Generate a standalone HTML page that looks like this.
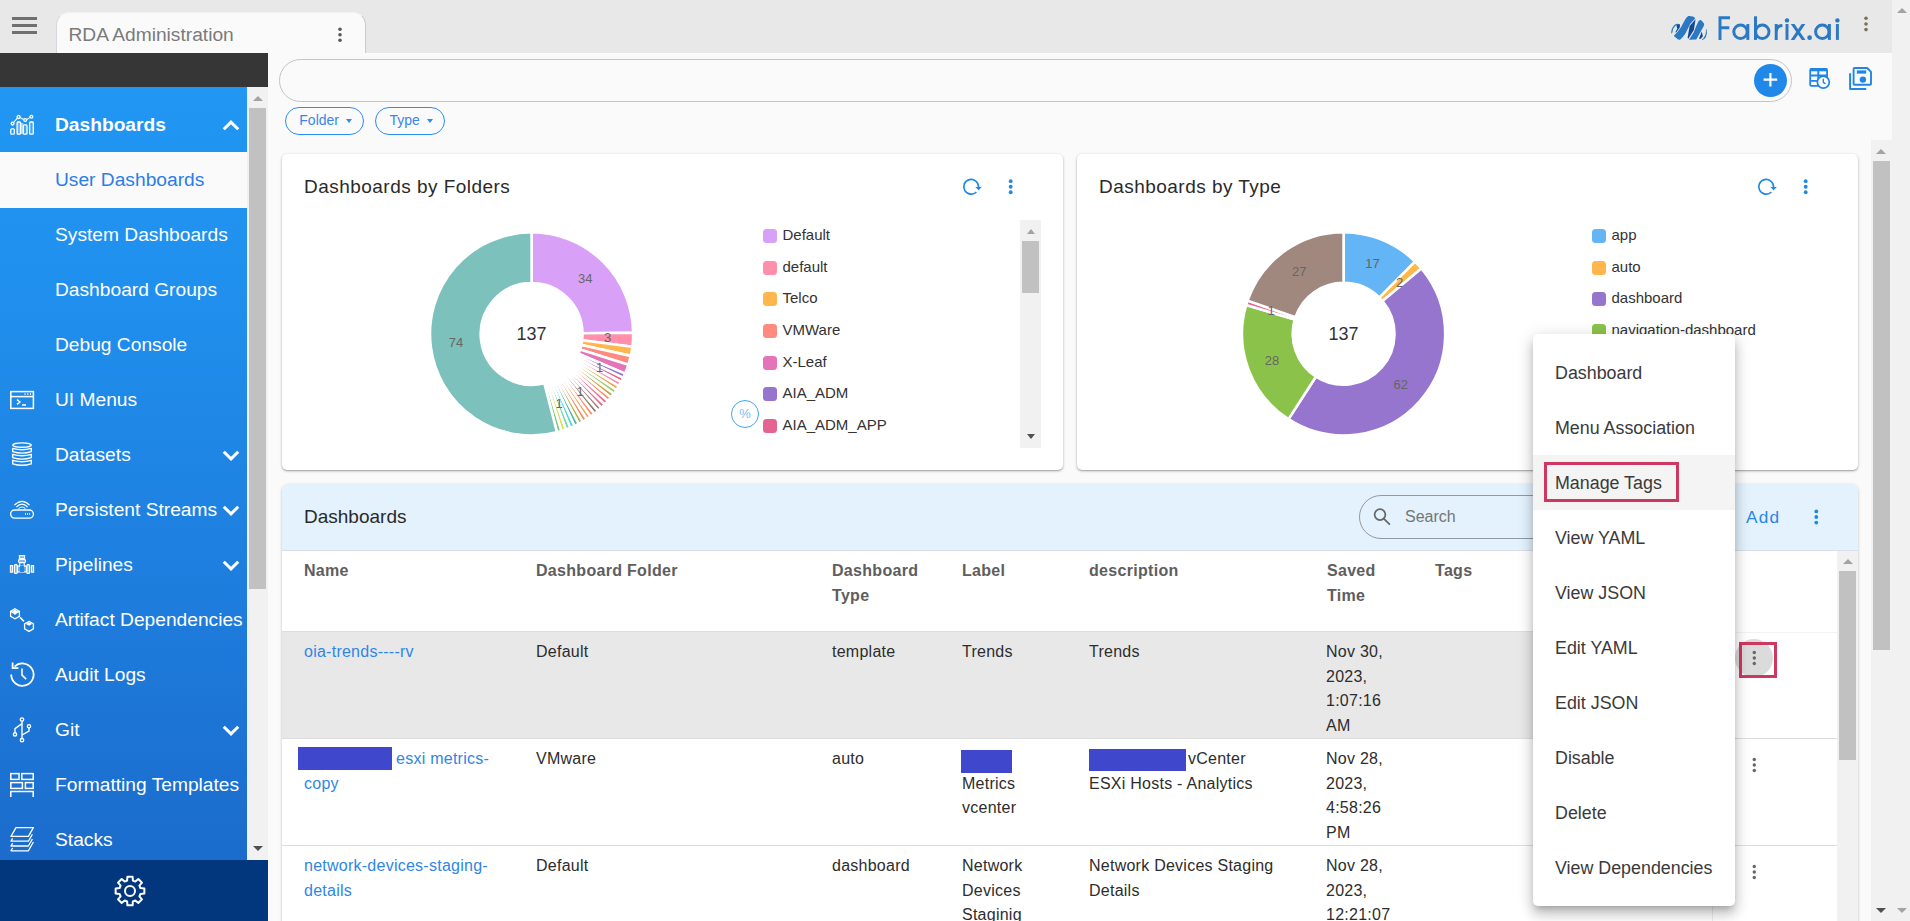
<!DOCTYPE html>
<html>
<head>
<meta charset="utf-8">
<title>RDA Administration</title>
<style>
*{box-sizing:border-box;margin:0;padding:0}
html,body{width:1910px;height:921px;overflow:hidden}
body{position:relative;background:#fafafa;font-family:"Liberation Sans",sans-serif;color:#333;}
.abs{position:absolute}
/* top bar */
#topbar{left:0;top:0;width:1892px;height:53px;background:#e8e8e8}
#outerscroll{left:1892px;top:0;width:18px;height:921px;background:#f1f1f1}
#tab{left:56px;top:12px;width:310px;height:41px;background:#fafafa;border-radius:13px 13px 0 0;border-left:1px solid #d4d8dc;border-right:1px solid #c4cbd1;border-top:1px solid #f2f2f2}
#tabtxt{left:68.5px;top:23px;font-size:19.2px;line-height:24px;color:#7a7a7a;white-space:nowrap}
.hb{left:12px;width:25px;height:3px;background:#707070}
/* sidebar */
#darkbar{left:0;top:53px;width:268px;height:34px;background:#363636}
#side{left:0;top:87px;width:247px;height:773px;background:linear-gradient(180deg,#2196f3 0%,#2090ee 25%,#1e80e0 60%,#1b6ccc 100%);overflow:hidden}
#sidescroll{left:247px;top:87px;width:21px;height:773px;background:#f1f1f1}
#sidethumb{left:249px;top:108px;width:17px;height:481px;background:#c1c1c1}
#sidefoot{left:0;top:860px;width:268px;height:61px;background:#02377e}
.si{position:absolute;left:0;width:247px;height:55px;color:#fff;font-size:19.2px;line-height:55px;white-space:nowrap}
.si span{position:absolute;left:55px;top:0}
.si.b span{font-weight:700}
.si svg.ic{position:absolute}
.si svg.ch{position:absolute;left:221.6px;top:20px}
#udash{background:#fafafa;color:#2b7de9}
.tri-up{width:0;height:0;border-left:5px solid transparent;border-right:5px solid transparent;border-bottom:5px solid #a3a3a3}
.tri-dn{width:0;height:0;border-left:5px solid transparent;border-right:5px solid transparent;border-top:5px solid #505050}
</style>
</head>
<body>
<!-- TOP BAR -->
<div id="topbar" class="abs"></div>
<div id="outerscroll" class="abs"></div>
<div class="abs tri-up" style="left:1897px;top:8px"></div>
<div class="abs tri-dn" style="left:1897px;top:908px;border-top-color:#a3a3a3"></div>
<div class="abs hb" style="top:17px"></div>
<div class="abs hb" style="top:24px"></div>
<div class="abs hb" style="top:31px"></div>
<div id="tab" class="abs"></div>
<div id="tabtxt" class="abs">RDA Administration</div>
<svg class="abs" style="left:335px;top:25px" width="10" height="20" viewBox="0 0 10 20"><g fill="#585858"><circle cx="5" cy="4.2" r="1.8"/><circle cx="5" cy="9.75" r="1.8"/><circle cx="5" cy="15.3" r="1.8"/></g></svg>
<!-- logo -->
<svg class="abs" style="left:1666px;top:12px" width="48" height="32" viewBox="0 0 1382 921">
 <path d="M150 625 Q140 470 250 365 Q330 320 400 355 L395 375 Q320 360 265 400 Q185 480 185 590 Z" fill="#2b79c5"/>
 <path d="M300 385 Q360 350 402 362 L396 445 L292 592 L268 580 L325 480 Z" fill="#0f4a94"/>
 <path d="M1165 490 Q1200 600 1150 720 Q1110 790 1045 805 L1035 790 Q1100 740 1130 660 Q1160 580 1150 500 Z" fill="#2b79c5"/>
 <path d="M1030 560 L1062 700 L1005 772 L950 772 L1000 640 Z" fill="#0f4a94"/>
 <path d="M852 212 L832 330 L802 520 L642 772 L622 742 L680 400 Z" fill="#0f4a94"/>
 <path d="M640 115 Q720 105 790 140 Q830 160 840 186 L700 340 L560 620 Q480 740 420 782 Q380 812 340 785 L232 695 Q225 680 240 668 Q340 580 430 440 L540 240 Q590 140 640 115 Z" fill="#2b79c5"/>
 <path d="M940 262 Q975 220 1010 235 Q1070 280 1098 340 Q1105 380 1080 420 L1000 560 L870 792 L662 796 L800 580 L870 400 Z" fill="#2b79c5"/>
</svg>
<svg class="abs" style="left:1664px;top:8px" width="180" height="40" viewBox="0 0 180 40">
 <g fill="none" stroke="#2b79c5" stroke-width="2.95">
  <path d="M56 31.9V8.3M54.6 9.75H66M54.6 19.8H65.3"/>
  <circle cx="76.5" cy="23.8" r="6.7"/><path d="M83.85 16V31.9"/>
  <path d="M91.5 8.3V31.9"/><circle cx="98.3" cy="23.8" r="6.7"/>
  <path d="M112.2 16V31.9M112.2 24 Q112.2 17.5 118.4 17.5"/>
  <path d="M123 16V31.9"/>
  <circle cx="158.3" cy="23.8" r="6.7"/><path d="M165.4 16V31.9"/>
  <path d="M173.4 16V31.9"/>
 </g>
 <g fill="#2b79c5"><path d="M126.8 16H130.5L141.5 31.9H137.8Z"/><path d="M141.4 16H137.7L126.7 31.9H130.4Z"/><circle cx="123" cy="12.4" r="2.2"/><circle cx="173.4" cy="12.4" r="2.2"/><circle cx="145.6" cy="29.7" r="2.35"/></g>
</svg>
<svg class="abs" style="left:1861px;top:12px" width="10" height="24" viewBox="0 0 10 24"><g fill="#7a6f5f"><circle cx="5" cy="6.2" r="1.8"/><circle cx="5" cy="12" r="1.8"/><circle cx="5" cy="17.6" r="1.8"/></g></svg>
<!-- SIDEBAR -->
<div id="darkbar" class="abs"></div>
<div id="sidescroll" class="abs"></div>
<div class="abs tri-up" style="left:252.6px;top:96px"></div>
<div id="sidethumb" class="abs"></div>
<div class="abs tri-dn" style="left:252.6px;top:846px"></div>
<div id="side" class="abs">
 <div class="si b" style="top:10px"><svg class="ic" style="left:9px;top:17px" width="26" height="22" viewBox="0 0 26 22" fill="none" stroke="#fff" stroke-width="1.3"><rect x="1.8" y="14.8" width="3.5" height="5.4" rx=".9"/><rect x="8.1" y="8" width="3.5" height="12.2" rx=".9" fill="rgba(255,255,255,.3)"/><rect x="14.3" y="10.8" width="3.7" height="9.4" rx=".9" fill="rgba(255,255,255,.15)"/><rect x="20.6" y="8" width="3.7" height="12.2" rx=".9" fill="rgba(255,255,255,.15)"/><rect x="11.6" y="9" width="2.7" height="11" fill="rgba(255,255,255,.55)" stroke="none"/><path d="M4.6 8.4 L8.4 4.2 M11 3.6 L14.6 5.6 M17.8 5.6 L21 3.4" stroke-width="1.1"/><circle cx="3.6" cy="9.6" r="1.4"/><circle cx="9.6" cy="3" r="1.5"/><circle cx="16.2" cy="6" r="1.4"/><circle cx="22.4" cy="2.8" r="1.4"/></svg><span>Dashboards</span><svg class="ch" style="top:23px" width="18" height="11" viewBox="0 0 18 11"><polyline points="1.8,9.3 9,2.2 16.2,9.3" fill="none" stroke="#fff" stroke-width="3"/></svg></div>
 <div class="si" id="udash" style="top:65px;height:56px"><span>User Dashboards</span></div>
 <div class="si" style="top:120px"><span>System Dashboards</span></div>
 <div class="si" style="top:175px"><span>Dashboard Groups</span></div>
 <div class="si" style="top:230px"><span>Debug Console</span></div>
 <div class="si" style="top:285px"><svg class="ic" style="left:9px;top:18px" width="26" height="20" viewBox="0 0 26 20" fill="none" stroke="#fff" stroke-width="1.5"><rect x="1.8" y="1.6" width="22.6" height="16.8"/><path d="M1.8 6.6 H24.4" /><path d="M8 9.6 L11 12 L8 14.4 M13 15 H17" stroke-width="1.4"/><path d="M15.5 4.1 H16.5 M18.3 4.1 H19.3 M21 4.1 H22" stroke-width="1.6"/></svg><span>UI Menus</span></div>
 <div class="si" style="top:340px"><svg class="ic" style="left:11px;top:15px" width="22" height="25" viewBox="0 0 22 25" fill="none" stroke="#fff" stroke-width="1.4"><ellipse cx="11" cy="3.1" rx="9.3" ry="2.2"/><path d="M1.7 6.4Q11 9.2 20.3 6.4V9.6Q11 12.6 1.7 9.6Z M1.7 12.3Q11 15.1 20.3 12.3V15.6Q11 18.6 1.7 15.6Z M1.7 18.3Q11 21.1 20.3 18.3V21.8Q11 24.8 1.7 21.8Z" stroke-linejoin="round"/></svg><span>Datasets</span><svg class="ch" width="18" height="11" viewBox="0 0 18 11" style="top:23px"><polyline points="1.8,1.7 9,8.8 16.2,1.7" fill="none" stroke="#fff" stroke-width="3"/></svg></div>
 <div class="si" style="top:395px"><svg class="ic" style="left:9px;top:17px" width="26" height="21" viewBox="0 0 26 21" fill="none" stroke="#fff" stroke-width="1.3"><rect x="1.6" y="11" width="22.8" height="8.2" rx="4.1"/><path d="M5.4 6.2 Q13 -1.4 20.6 6.2" stroke-width="1.1"/><path d="M7.4 8 Q13 2.4 18.6 8" stroke-width="1.1"/><path d="M9.6 9.6 Q13 6.4 16.4 9.6" stroke-width="1.1"/><path d="M16 15.1 H17 M18 15.1 H19 M20 15.1 H21" stroke-width="1.5"/></svg><span>Persistent Streams</span><svg class="ch" width="18" height="11" viewBox="0 0 18 11" style="top:23px"><polyline points="1.8,1.7 9,8.8 16.2,1.7" fill="none" stroke="#fff" stroke-width="3"/></svg></div>
 <div class="si" style="top:450px"><svg class="ic" style="left:9px;top:17px" width="26" height="21" viewBox="0 0 26 21" fill="rgba(255,255,255,.45)" stroke="#fff" stroke-width="1.1"><rect x="10.4" y="1.6" width="5.2" height="3"/><rect x="9.6" y="5.4" width="6.8" height="3.2" rx="1"/><path d="M10.8 8.6 V13 M15.2 8.6 V13" fill="none"/><rect x="1.4" y="11.6" width="2.2" height="6.6"/><rect x="5.4" y="10.6" width="2.8" height="8.8" rx="1"/><rect x="17.8" y="10.6" width="2.8" height="8.8" rx="1"/><rect x="22.4" y="11.6" width="2.2" height="6.6"/><rect x="8.6" y="12" width="8.8" height="6" fill="rgba(255,255,255,.3)"/><rect x="11" y="11.6" width="4" height="6.4" fill="#1f86e6" stroke="none"/></svg><span>Pipelines</span><svg class="ch" width="18" height="11" viewBox="0 0 18 11" style="top:23px"><polyline points="1.8,1.7 9,8.8 16.2,1.7" fill="none" stroke="#fff" stroke-width="3"/></svg></div>
 <div class="si" style="top:505px"><svg class="ic" style="left:9px;top:15px" width="26" height="26" viewBox="0 0 26 26" fill="none" stroke="#fff" stroke-width="1.3"><path d="M6 1.8 L10.4 4.3 V9.3 L6 11.8 L1.6 9.3 V4.3 Z"/><path d="M1.8 4.4 L6 6.8 L10.2 4.4 M6 6.8 V8" fill="none"/><path d="M6 2.6 L9 4.4 L6 6.2 L3 4.4Z" fill="#fff" stroke="none"/><path d="M20 14.4 L24.4 16.9 V21.9 L20 24.4 L15.6 21.9 V16.9 Z"/><path d="M20 15.2 L23 17 L20 18.8 L17 17Z" fill="#fff" stroke="none"/><path d="M11 10.4 L15 14.4" stroke-width="1.5"/></svg><span>Artifact Dependencies</span></div>
 <div class="si" style="top:560px"><svg class="ic" style="left:9px;top:13px" width="27" height="28" viewBox="0 0 27 28" fill="none" stroke="#fff" stroke-width="1.8"><path d="M2.2 14.6 A11.2 11.2 0 1 0 5.6 6.6"/><path d="M3.6 2.6 V8.2 H9.4" stroke-width="1.8"/><path d="M13 8.6 V15.2 L17.2 19.2" stroke-width="1.6"/></svg><span>Audit Logs</span></div>
 <div class="si" style="top:615px"><svg class="ic" style="left:11px;top:14px" width="22" height="28" viewBox="0 0 22 28" fill="none" stroke="#fff" stroke-width="1.4"><path d="M11 5.4 V22.4"/><path d="M11 7.6 L4 12.6 V16.8"/><path d="M11 19 L18 15.2 V12"/><circle cx="11" cy="3.6" r="1.7"/><circle cx="11" cy="24.2" r="1.7"/><circle cx="4" cy="18.4" r="1.6"/><circle cx="18" cy="10.2" r="1.6"/></svg><span>Git</span><svg class="ch" width="18" height="11" viewBox="0 0 18 11" style="top:23px"><polyline points="1.8,1.7 9,8.8 16.2,1.7" fill="none" stroke="#fff" stroke-width="3"/></svg></div>
 <div class="si" style="top:670px"><svg class="ic" style="left:9px;top:15px" width="26" height="26" viewBox="0 0 26 26" fill="none" stroke="#fff" stroke-width="1.5"><rect x="1.8" y="1.6" width="8.2" height="5.8"/><rect x="12.8" y="1.6" width="11.4" height="5.8"/><rect x="1.8" y="10.6" width="11.6" height="5.8"/><rect x="16.4" y="10.6" width="7.8" height="5.8"/><path d="M1.8 25 V19.6 H24.2 V25"/></svg><span>Formatting Templates</span></div>
 <div class="si" style="top:725px"><svg class="ic" style="left:9px;top:14px" width="27" height="28" viewBox="0 0 27 28" fill="none" stroke="#fff" stroke-width="1.3" stroke-linejoin="round"><path d="M7 1.6 H24.4 L19.4 10.4 H2 Z"/><path d="M3.6 12.4 L2 15.2 H19.4 L23.4 8.2"/><path d="M3.6 17.2 L2 20 H19.4 L23.4 13"/><path d="M3.6 22 L2 24.8 H19.4 L24.4 16"/></svg><span>Stacks</span></div>
</div>
<div id="sidefoot" class="abs"></div>
<svg class="abs" style="left:113.4px;top:874px" width="34" height="34" viewBox="0 0 34 34"><g transform="translate(17 17)" fill="none" stroke="#fff" stroke-width="2" stroke-linejoin="round"><circle r="5"/><path d="M-2.89 -10.41L-2.59 -14.37L2.59 -14.37L2.89 -10.41L5.32 -9.40L8.33 -11.99L11.99 -8.33L9.40 -5.32L10.41 -2.89L14.37 -2.59L14.37 2.59L10.41 2.89L9.40 5.32L11.99 8.33L8.33 11.99L5.32 9.40L2.89 10.41L2.59 14.37L-2.59 14.37L-2.89 10.41L-5.32 9.40L-8.33 11.99L-11.99 8.33L-9.40 5.32L-10.41 2.89L-14.37 2.59L-14.37 -2.59L-10.41 -2.89L-9.40 -5.32L-11.99 -8.33L-8.33 -11.99L-5.32 -9.40Z"/></g></svg>
<style>
#fbar{left:279px;top:59px;width:1513px;height:43px;border:1px solid #c4c4c4;border-radius:22px;background:#fafafa}
#plus{left:1754px;top:64px;width:33px;height:33px;border-radius:50%;background:#2088e8}
.chip{position:absolute;top:107px;height:28px;border:1.5px solid #2b8cf0;border-radius:14px;color:#3a86e8;font-size:14px;line-height:25px;white-space:nowrap}
.chip i{position:absolute;top:11px;width:0;height:0;border-left:3.5px solid transparent;border-right:3.5px solid transparent;border-top:4px solid #2b8cf0}
#mainscroll{left:1871px;top:140px;width:21px;height:781px;background:#f1f1f1}
#mainthumb{left:1873px;top:161px;width:17px;height:489px;background:#c1c1c1}
.card{position:absolute;top:154px;height:316px;background:#fff;border-radius:5px;box-shadow:0 1px 3px rgba(0,0,0,.28),0 1px 1px rgba(0,0,0,.14)}
.ctitle{position:absolute;left:22px;top:21px;font-size:19px;letter-spacing:.47px;line-height:24px;color:#2a2a2a;white-space:nowrap}
.lg{position:absolute;font-size:15px;line-height:18px;color:#333;white-space:nowrap}
.lg b{position:absolute;left:-20px;top:3px;width:14px;height:14px;border-radius:3.5px}
.dl{font-size:13px;fill:#666;text-anchor:middle;dominant-baseline:central;font-family:"Liberation Sans",sans-serif}
.ct{font-size:18px;fill:#333;text-anchor:middle;dominant-baseline:central;font-family:"Liberation Sans",sans-serif}
/* table */
#tcard{left:282px;top:484px;width:1576px;height:445px;background:#fff;border-radius:6px 6px 0 0;box-shadow:0 1px 3px rgba(0,0,0,.25);overflow:hidden}
#thead{left:0;top:0;width:1576px;height:67px;background:#e3f2fd;border-bottom:1px solid #d8dfe6}
#ttitle{left:22px;top:21px;font-size:19px;line-height:24px;color:#2a2a2a}
#search{left:1077px;top:11px;width:300px;height:44px;border:1px solid #8f9aa3;border-radius:22px}
#tscroll{left:1555px;top:67px;width:21px;height:380px;background:#f1f1f1}
#tthumb{left:1557px;top:87px;width:17px;height:189px;background:#c1c1c1}
.th{position:absolute;top:74px;font-weight:700;font-size:16px;line-height:25px;color:#5e5e5e;letter-spacing:.3px}
.row{position:absolute;left:0;width:1555px;height:107px;border-top:1px solid #dedede}
.td{position:absolute;top:8px;font-size:16px;line-height:24.7px;color:#2d2d2d;letter-spacing:.25px}
.td.lk{color:#2f86e6}
.red{display:inline-block;background:#3f48cc;vertical-align:top}
.kb{position:absolute;left:1467px}
/* popup */
#pop{left:1533px;top:334px;width:202px;height:571.5px;background:#fff;border-radius:5px;box-shadow:0 5px 6px -3px rgba(0,0,0,.2),0 9px 12px 1px rgba(0,0,0,.14),0 3px 16px 2px rgba(0,0,0,.12)}
.mi{position:absolute;left:0;width:202px;height:55px;padding-left:22px;font-size:17.85px;line-height:57px;color:#3a3a3a;white-space:nowrap;overflow:hidden}
</style>
<!-- FILTER BAR -->
<div id="fbar" class="abs"></div>
<div id="plus" class="abs"><svg width="33" height="33" viewBox="0 0 33 33"><path d="M16.4 8.9V22.5M9.6 15.7H23.2" stroke="#fff" stroke-width="2.2" fill="none"/></svg></div>
<svg class="abs" style="left:1807px;top:66px" width="26" height="26" viewBox="0 0 26 26" fill="none" stroke="#2185e5" stroke-width="1.8"><rect x="3.2" y="3" width="16.9" height="16.9" rx="1.2"/><path d="M3.2 3.8H20.1" stroke-width="3"/><path d="M3.2 9.5H20.1M3.2 14.9H12M11.3 3V20" stroke-width="1.9"/><circle cx="16.3" cy="16.1" r="6" fill="#fafafa" stroke-width="1.7"/><path d="M16.3 12.8V16.4L18.5 17.8" stroke-width="1.4"/></svg>
<svg class="abs" style="left:1847px;top:65px" width="27" height="27" viewBox="0 0 27 27" fill="none" stroke="#2185e5" stroke-width="1.9" stroke-linejoin="round"><path d="M7.6 3H20.2L24 6.8V18.8Q24 19.8 23 19.8H7.6Q6.6 19.8 6.6 18.8V4Q6.6 3 7.6 3Z"/><path d="M3.1 8.2V24H19.2" stroke-width="2"/><rect x="9.8" y="5.4" width="9.4" height="3.2" fill="#2185e5" stroke="none"/><circle cx="15.9" cy="14.6" r="3.2" fill="#2185e5" stroke="none"/></svg>
<div class="chip" style="left:285px;width:79px;padding-left:13.3px">Folder<i style="left:60px"></i></div>
<div class="chip" style="left:375px;width:70px;padding-left:13.4px">Type<i style="left:51px"></i></div>
<!-- main scrollbar -->
<div id="mainscroll" class="abs"></div>
<div class="abs tri-up" style="left:1876px;top:149px"></div>
<div id="mainthumb" class="abs"></div>
<div class="abs tri-dn" style="left:1876px;top:908px"></div>

<!-- CARD 1 -->
<div class="card" style="left:282px;width:781px">
 <div class="ctitle">Dashboards by Folders</div>
 <svg class="abs" style="left:678px;top:22px" width="24" height="22" viewBox="0 0 24 22" fill="none" stroke="#1e88e5" stroke-width="1.65"><path d="M18.55 11A7.4 7.4 0 1 0 16.4 16"/><path d="M15.4 10.9H21.8L18.6 14.3Z" fill="#1e88e5" stroke="none"/></svg>
 <svg class="abs" style="left:723px;top:23px" width="12" height="20" viewBox="0 0 12 20"><g fill="#1e88e5"><circle cx="5.7" cy="4.2" r="1.9"/><circle cx="5.7" cy="9.75" r="1.9"/><circle cx="5.7" cy="15.25" r="1.9"/></g></svg>
 <svg class="abs" style="left:0;top:0" width="520" height="316" viewBox="0 0 520 316">
<path d="M249.60 78.30A101.6 101.6 0 0 1 351.19 178.74L300.50 179.32A50.9 50.9 0 0 0 249.60 129.00Z" fill="#d9a0f7" stroke="#fff" stroke-width="2.6" stroke-linejoin="round"/>
<path d="M351.19 178.74A101.6 101.6 0 0 1 350.39 192.68L300.10 186.30A50.9 50.9 0 0 0 300.50 179.32Z" fill="#ff8fab" stroke="#fff" stroke-width="2.6" stroke-linejoin="round"/>
<path d="M350.39 192.68A101.6 101.6 0 0 1 348.80 201.86L299.30 190.90A50.9 50.9 0 0 0 300.10 186.30Z" fill="#ffb74d" stroke="#fff" stroke-width="2.6" stroke-linejoin="round"/>
<path d="M348.80 201.86A101.6 101.6 0 0 1 346.37 210.85L298.08 195.41A50.9 50.9 0 0 0 299.30 190.90Z" fill="#ff8a80" stroke="#fff" stroke-width="2.6" stroke-linejoin="round"/>
<path d="M346.37 210.85A101.6 101.6 0 0 1 343.13 219.59L296.46 199.78A50.9 50.9 0 0 0 298.08 195.41Z" fill="#e573b8" stroke="#fff" stroke-width="2.6" stroke-linejoin="round"/>
<path d="M343.13 219.59A101.6 101.6 0 0 1 341.21 223.83L295.50 201.91A50.9 50.9 0 0 0 296.46 199.78Z" fill="#9575cd" stroke="#fff" stroke-width="2.6" stroke-linejoin="round"/>
<path d="M341.21 223.83A101.6 101.6 0 0 1 339.10 227.99L294.44 203.99A50.9 50.9 0 0 0 295.50 201.91Z" fill="#e5638f" stroke="#fff" stroke-width="2.6" stroke-linejoin="round"/>
<path d="M339.10 227.99A101.6 101.6 0 0 1 336.80 232.04L293.29 206.02A50.9 50.9 0 0 0 294.44 203.99Z" fill="#f48fb1" stroke="#fff" stroke-width="2.6" stroke-linejoin="round"/>
<path d="M336.80 232.04A101.6 101.6 0 0 1 334.32 235.98L292.04 208.00A50.9 50.9 0 0 0 293.29 206.02Z" fill="#f0a34e" stroke="#fff" stroke-width="2.6" stroke-linejoin="round"/>
<path d="M334.32 235.98A101.6 101.6 0 0 1 331.66 239.81L290.71 209.91A50.9 50.9 0 0 0 292.04 208.00Z" fill="#9ccc65" stroke="#fff" stroke-width="2.6" stroke-linejoin="round"/>
<path d="M331.66 239.81A101.6 101.6 0 0 1 328.83 243.51L289.29 211.77A50.9 50.9 0 0 0 290.71 209.91Z" fill="#c9a43c" stroke="#fff" stroke-width="2.6" stroke-linejoin="round"/>
<path d="M328.83 243.51A101.6 101.6 0 0 1 325.83 247.07L287.79 213.55A50.9 50.9 0 0 0 289.29 211.77Z" fill="#ff8a65" stroke="#fff" stroke-width="2.6" stroke-linejoin="round"/>
<path d="M325.83 247.07A101.6 101.6 0 0 1 322.67 250.50L286.21 215.27A50.9 50.9 0 0 0 287.79 213.55Z" fill="#f06292" stroke="#fff" stroke-width="2.6" stroke-linejoin="round"/>
<path d="M322.67 250.50A101.6 101.6 0 0 1 319.35 253.77L284.55 216.91A50.9 50.9 0 0 0 286.21 215.27Z" fill="#ec6a8e" stroke="#fff" stroke-width="2.6" stroke-linejoin="round"/>
<path d="M319.35 253.77A101.6 101.6 0 0 1 315.89 256.89L282.81 218.47A50.9 50.9 0 0 0 284.55 216.91Z" fill="#a1887f" stroke="#fff" stroke-width="2.6" stroke-linejoin="round"/>
<path d="M315.89 256.89A101.6 101.6 0 0 1 312.29 259.85L281.01 219.95A50.9 50.9 0 0 0 282.81 218.47Z" fill="#8d7b73" stroke="#fff" stroke-width="2.6" stroke-linejoin="round"/>
<path d="M312.29 259.85A101.6 101.6 0 0 1 308.56 262.64L279.14 221.35A50.9 50.9 0 0 0 281.01 219.95Z" fill="#ff8a65" stroke="#fff" stroke-width="2.6" stroke-linejoin="round"/>
<path d="M308.56 262.64A101.6 101.6 0 0 1 304.71 265.26L277.21 222.66A50.9 50.9 0 0 0 279.14 221.35Z" fill="#f2a65a" stroke="#fff" stroke-width="2.6" stroke-linejoin="round"/>
<path d="M304.71 265.26A101.6 101.6 0 0 1 300.74 267.69L275.22 223.88A50.9 50.9 0 0 0 277.21 222.66Z" fill="#f08a6a" stroke="#fff" stroke-width="2.6" stroke-linejoin="round"/>
<path d="M300.74 267.69A101.6 101.6 0 0 1 296.66 269.95L273.17 225.01A50.9 50.9 0 0 0 275.22 223.88Z" fill="#b5b342" stroke="#fff" stroke-width="2.6" stroke-linejoin="round"/>
<path d="M296.66 269.95A101.6 101.6 0 0 1 292.48 272.01L271.08 226.04A50.9 50.9 0 0 0 273.17 225.01Z" fill="#4db6ac" stroke="#fff" stroke-width="2.6" stroke-linejoin="round"/>
<path d="M292.48 272.01A101.6 101.6 0 0 1 288.21 273.88L268.94 226.98A50.9 50.9 0 0 0 271.08 226.04Z" fill="#4dd0e1" stroke="#fff" stroke-width="2.6" stroke-linejoin="round"/>
<path d="M288.21 273.88A101.6 101.6 0 0 1 283.86 275.55L266.76 227.82A50.9 50.9 0 0 0 268.94 226.98Z" fill="#6fd6a0" stroke="#fff" stroke-width="2.6" stroke-linejoin="round"/>
<path d="M283.86 275.55A101.6 101.6 0 0 1 279.44 277.02L264.55 228.56A50.9 50.9 0 0 0 266.76 227.82Z" fill="#d4e157" stroke="#fff" stroke-width="2.6" stroke-linejoin="round"/>
<path d="M279.44 277.02A101.6 101.6 0 0 1 274.96 278.28L262.30 229.19A50.9 50.9 0 0 0 264.55 228.56Z" fill="#81c784" stroke="#fff" stroke-width="2.6" stroke-linejoin="round"/>
<path d="M274.96 278.28A101.6 101.6 0 1 1 249.60 78.30L249.60 129.00A50.9 50.9 0 1 0 262.30 229.19Z" fill="#7cc1bc" stroke="#fff" stroke-width="2.6" stroke-linejoin="round"/>
<text class="dl" x="303.2" y="124.5">34</text>
<text class="dl" x="325.7" y="183.1">3</text>
<text class="dl" x="317.6" y="213.2">1</text>
<text class="dl" x="298.0" y="237.6">1</text>
<text class="dl" x="277.0" y="249.9">1</text>
<text class="dl" x="174.0" y="188.3">74</text>
<text class="ct" x="249.6" y="179.6">137</text>
 </svg>
 <div class="abs" style="left:449px;top:245.5px;width:28px;height:28px;border:1px solid #42a5f5;border-radius:50%;color:#7cc0f5;font-size:13px;line-height:26px;text-align:center">%</div>
 <div class="lg" style="left:500.5px;top:72px"><b style="background:#d9a0f7"></b>Default</div>
 <div class="lg" style="left:500.5px;top:103.7px"><b style="background:#ff8fab"></b>default</div>
 <div class="lg" style="left:500.5px;top:135.3px"><b style="background:#ffb74d"></b>Telco</div>
 <div class="lg" style="left:500.5px;top:166.9px"><b style="background:#ff8a80"></b>VMWare</div>
 <div class="lg" style="left:500.5px;top:198.5px"><b style="background:#e573b8"></b>X-Leaf</div>
 <div class="lg" style="left:500.5px;top:230.1px"><b style="background:#9575cd"></b>AIA_ADM</div>
 <div class="lg" style="left:500.5px;top:261.8px"><b style="background:#e5638f"></b>AIA_ADM_APP</div>
 <div class="abs" style="left:738px;top:66px;width:21px;height:228px;background:#f1f1f1"></div>
 <div class="abs tri-up" style="left:744.5px;top:75px;border-left-width:4.5px;border-right-width:4.5px"></div>
 <div class="abs" style="left:740px;top:87px;width:17px;height:52px;background:#c1c1c1"></div>
 <div class="abs tri-dn" style="left:744.5px;top:280px;border-left-width:4.5px;border-right-width:4.5px"></div>
</div>
<!-- CARD 2 -->
<div class="card" style="left:1077px;width:781px">
 <div class="ctitle">Dashboards by Type</div>
 <svg class="abs" style="left:678px;top:22px" width="24" height="22" viewBox="0 0 24 22" fill="none" stroke="#1e88e5" stroke-width="1.65"><path d="M18.55 11A7.4 7.4 0 1 0 16.4 16"/><path d="M15.4 10.9H21.8L18.6 14.3Z" fill="#1e88e5" stroke="none"/></svg>
 <svg class="abs" style="left:723px;top:23px" width="12" height="20" viewBox="0 0 12 20"><g fill="#1e88e5"><circle cx="5.7" cy="4.2" r="1.9"/><circle cx="5.7" cy="9.75" r="1.9"/><circle cx="5.7" cy="15.25" r="1.9"/></g></svg>
 <svg class="abs" style="left:0;top:0" width="520" height="316" viewBox="0 0 520 316">
<path d="M266.60 78.20A101.6 101.6 0 0 1 338.03 107.55L302.38 143.60A50.9 50.9 0 0 0 266.60 128.90Z" fill="#64b5f6" stroke="#fff" stroke-width="2.6" stroke-linejoin="round"/>
<path d="M338.03 107.55A101.6 101.6 0 0 1 344.35 114.39L305.55 147.03A50.9 50.9 0 0 0 302.38 143.60Z" fill="#ffb74d" stroke="#fff" stroke-width="2.6" stroke-linejoin="round"/>
<path d="M344.35 114.39A101.6 101.6 0 0 1 211.49 265.16L238.99 222.56A50.9 50.9 0 0 0 305.55 147.03Z" fill="#9575cd" stroke="#fff" stroke-width="2.6" stroke-linejoin="round"/>
<path d="M211.49 265.16A101.6 101.6 0 0 1 169.15 151.07L217.78 165.41A50.9 50.9 0 0 0 238.99 222.56Z" fill="#8bc34a" stroke="#fff" stroke-width="2.6" stroke-linejoin="round"/>
<path d="M169.15 151.07A101.6 101.6 0 0 1 170.56 146.64L218.49 163.19A50.9 50.9 0 0 0 217.78 165.41Z" fill="#f06292" stroke="#fff" stroke-width="2.6" stroke-linejoin="round"/>
<path d="M170.56 146.64A101.6 101.6 0 0 1 266.60 78.20L266.60 128.90A50.9 50.9 0 0 0 218.49 163.19Z" fill="#a1887f" stroke="#fff" stroke-width="2.6" stroke-linejoin="round"/>
<text class="dl" x="295.6" y="109.3">17</text>
<text class="dl" x="322.6" y="128.1">2</text>
<text class="dl" x="323.8" y="230.2">62</text>
<text class="dl" x="195.1" y="206.3">28</text>
<text class="dl" x="194.0" y="156.6">1</text>
<text class="dl" x="222.3" y="117.7">27</text>
<text class="ct" x="266.6" y="179.5">137</text>
 </svg>
 <div class="lg" style="left:534.5px;top:72px"><b style="left:-19.5px;background:#64b5f6"></b>app</div>
 <div class="lg" style="left:534.5px;top:103.6px"><b style="left:-19.5px;background:#ffb74d"></b>auto</div>
 <div class="lg" style="left:534.5px;top:135px"><b style="left:-19.5px;background:#9575cd"></b>dashboard</div>
 <div class="lg" style="left:534.5px;top:167px"><b style="left:-19.5px;background:#8bc34a"></b>navigation-dashboard</div>
</div>
<!-- TABLE CARD -->
<div id="tcard" class="abs">
 <div id="thead" class="abs"></div>
 <div id="ttitle" class="abs">Dashboards</div>
 <div id="search" class="abs"></div>
 <svg class="abs" style="left:1088.7px;top:20.5px" width="22" height="22" viewBox="0 0 22 22" fill="none" stroke="#666" stroke-width="1.75"><circle cx="9" cy="9.6" r="5.4"/><path d="M13 13.8L18.4 19.2" stroke-linecap="round"/></svg>
 <div class="abs" style="left:1123px;top:22px;font-size:16px;line-height:22px;color:#757575">Search</div>
 <div class="abs" style="left:1464px;top:21px;font-size:17.2px;line-height:24px;color:#2b86e8;letter-spacing:1.25px">Add</div>
 <svg class="abs" style="left:1529px;top:23px" width="12" height="20" viewBox="0 0 12 20"><g fill="#1e88e5"><circle cx="5.3" cy="4.4" r="1.9"/><circle cx="5.3" cy="10" r="1.9"/><circle cx="5.3" cy="15.6" r="1.9"/></g></svg>
 <!-- column headers -->
 <div class="th" style="left:22px">Name</div>
 <div class="th" style="left:254px">Dashboard Folder</div>
 <div class="th" style="left:550px">Dashboard<br>Type</div>
 <div class="th" style="left:680px">Label</div>
 <div class="th" style="left:807px">description</div>
 <div class="th" style="left:1045px">Saved<br>Time</div>
 <div class="th" style="left:1153px">Tags</div>
 <!-- rows -->
 <div class="row" style="top:147px;background:#e8e8e8">
  <div class="td lk" style="left:22px">oia-trends----rv</div>
  <div class="td" style="left:254px">Default</div>
  <div class="td" style="left:550px">template</div>
  <div class="td" style="left:680px">Trends</div>
  <div class="td" style="left:807px">Trends</div>
  <div class="td" style="left:1044px">Nov 30,<br>2023,<br>1:07:16<br>AM</div>
 </div>
 <div class="row" style="top:254px">
  <div class="td lk" style="left:22px"><span class="red" style="width:94px;height:23px;margin:0 4px 0 -6px"></span>esxi metrics-<br>copy</div>
  <div class="td" style="left:254px">VMware</div>
  <div class="td" style="left:550px">auto</div>
  <div class="td" style="left:680px"><span class="red" style="width:51px;height:23px;margin:3px 0 -1.3px -1px"></span><br>Metrics<br>vcenter</div>
  <div class="td" style="left:807px"><span class="red" style="width:97px;height:22px;margin:1.5px 2px 0 0"></span>vCenter<br>ESXi Hosts - Analytics</div>
  <div class="td" style="left:1044px">Nov 28,<br>2023,<br>4:58:26<br>PM</div>
 </div>
 <div class="row" style="top:361px">
  <div class="td lk" style="left:22px">network-devices-staging-<br>details</div>
  <div class="td" style="left:254px">Default</div>
  <div class="td" style="left:550px">dashboard</div>
  <div class="td" style="left:680px">Network<br>Devices<br>Staginig</div>
  <div class="td" style="left:807px">Network Devices Staging<br>Details</div>
  <div class="td" style="left:1044px">Nov 28,<br>2023,<br>12:21:07</div>
 </div>
 <!-- sticky action column -->
 <div class="abs" style="left:1430px;top:67px;width:125px;height:380px;background:#fff;border-left:1px solid #ececec"></div>
 <div class="abs" style="left:1430px;top:147.5px;width:125px;height:1px;background:#f3f3f3"></div>
 <div class="abs" style="left:1430px;top:254px;width:125px;height:1px;background:#dedede"></div>
 <div class="abs" style="left:1430px;top:361px;width:125px;height:1px;background:#dedede"></div>
 <div class="abs" style="left:1453.3px;top:155px;width:38px;height:38px;border-radius:50%;background:#dbdbdb"></div>
 <div class="abs" style="left:1457px;top:158px;width:38px;height:36px;border:3px solid #ce3860"></div>
 <svg class="abs kb" style="top:164.5px" width="10" height="20" viewBox="0 0 10 20"><g fill="#666"><circle cx="5.3" cy="3.5" r="1.7"/><circle cx="5.3" cy="9" r="1.7"/><circle cx="5.3" cy="14.5" r="1.7"/></g></svg>
 <svg class="abs kb" style="top:271.5px" width="10" height="20" viewBox="0 0 10 20"><g fill="#666"><circle cx="5.3" cy="3.5" r="1.7"/><circle cx="5.3" cy="9" r="1.7"/><circle cx="5.3" cy="14.5" r="1.7"/></g></svg>
 <svg class="abs kb" style="top:378.5px" width="10" height="20" viewBox="0 0 10 20"><g fill="#666"><circle cx="5.3" cy="3.5" r="1.7"/><circle cx="5.3" cy="9" r="1.7"/><circle cx="5.3" cy="14.5" r="1.7"/></g></svg>
 <!-- table scrollbar -->
 <div id="tscroll" class="abs"></div>
 <div class="abs tri-up" style="left:1560.5px;top:75px"></div>
 <div id="tthumb" class="abs"></div>
</div>
<!-- POPUP MENU -->
<div id="pop" class="abs">
 <div class="mi" style="top:11px">Dashboard</div>
 <div class="mi" style="top:66px">Menu Association</div>
 <div class="mi" style="top:121px;background:#f4f4f4">Manage Tags</div>
 <div class="abs" style="left:11px;top:128px;width:135px;height:40px;border:3px solid #ce3860"></div>
 <div class="mi" style="top:176px">View YAML</div>
 <div class="mi" style="top:231px">View JSON</div>
 <div class="mi" style="top:286px">Edit YAML</div>
 <div class="mi" style="top:341px">Edit JSON</div>
 <div class="mi" style="top:396px">Disable</div>
 <div class="mi" style="top:451px">Delete</div>
 <div class="mi" style="top:506px">View Dependencies</div>
</div>

</body>
</html>
